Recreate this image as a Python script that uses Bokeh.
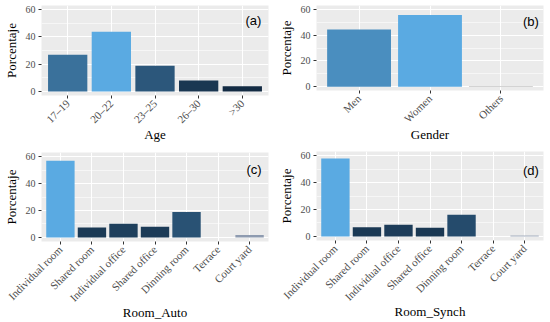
from math import pi
from bokeh.plotting import figure
from bokeh.layouts import column, row
from bokeh.models import FactorRange, Range1d, SingleIntervalTicker, Label
from bokeh.embed import file_html
from bokeh.resources import INLINE

# ---- data ----
age_cats = ["17–19", "20–22", "23–25", "26–30", ">30"]
age_vals = [26.8, 43.7, 18.8, 8.0, 3.8]

gender_cats = ["Men", "Women", "Others"]
gender_vals = [44.4, 55.6, 0.4]

room_cats = ["Individual room", "Shared room", "Individual office", "Shared office",
             "Dinning room", "Terrace", "Court yard"]
room_auto_vals = [56.8, 7.3, 10.2, 8.0, 18.8, 0.0, 1.8]
room_synch_vals = [57.8, 6.9, 8.7, 6.4, 16.1, 0.0, 0.8]

y_label = "Porcentaje"

LOW = "#132B43"
HIGH = "#5AAAE2"


# --- colour gradient interpolated in CIELAB (as ggplot's continuous fill scale) ---
def _to_lin(c):
    c = c / 255.0
    return c / 12.92 if c <= 0.04045 else ((c + 0.055) / 1.055) ** 2.4


def _from_lin(c):
    c = 12.92 * c if c <= 0.0031308 else 1.055 * c ** (1 / 2.4) - 0.055
    return max(0, min(255, int(round(c * 255))))


def hex_to_lab(h):
    r, g, b = (_to_lin(int(h[i:i + 2], 16)) for i in (1, 3, 5))
    x = (0.4124 * r + 0.3576 * g + 0.1805 * b) / 0.95047
    y = (0.2126 * r + 0.7152 * g + 0.0722 * b)
    z = (0.0193 * r + 0.1192 * g + 0.9505 * b) / 1.08883
    f = lambda t: t ** (1 / 3) if t > 0.008856 else 7.787 * t + 16 / 116
    fx, fy, fz = f(x), f(y), f(z)
    return 116 * fy - 16, 500 * (fx - fy), 200 * (fy - fz)


def lab_to_hex(L, a, b):
    fy = (L + 16) / 116
    fx = fy + a / 500
    fz = fy - b / 200
    fi = lambda t: t ** 3 if t ** 3 > 0.008856 else (t - 16 / 116) / 7.787
    x, y, z = fi(fx) * 0.95047, fi(fy), fi(fz) * 1.08883
    r = 3.2406 * x - 1.5372 * y - 0.4986 * z
    g = -0.9689 * x + 1.8758 * y + 0.0415 * z
    bl = 0.0557 * x - 0.2040 * y + 1.0570 * z
    return "#%02x%02x%02x" % (_from_lin(r), _from_lin(g), _from_lin(bl))


def gradient(vals, na=None):
    lo, hi = min(vals), max(vals)
    l0, l1 = hex_to_lab(LOW), hex_to_lab(HIGH)
    out = []
    for i, v in enumerate(vals):
        if na and i in na:
            out.append(na[i])
            continue
        t = (v - lo) / (hi - lo) if hi > lo else 0
        out.append(lab_to_hex(*(a + (b - a) * t for a, b in zip(l0, l1))))
    return out


def panel(cats, vals, colors, xlabel, tag, w, h, bl, br, bt, bb, tdx, tdy, title_standoff):
    pad = 0.1
    p = figure(x_range=FactorRange(factors=cats, range_padding=pad, range_padding_units="absolute"),
               y_range=Range1d(-3, 63), width=w, height=h,
               output_backend="svg", toolbar_location=None,
               min_border_left=bl, min_border_right=br, min_border_top=bt, min_border_bottom=bb)
    p.vbar(x=cats, top=vals, width=0.9, fill_color=colors, line_color=None)

    p.background_fill_color = "#EBEBEB"
    p.border_fill_color = "white"
    p.outline_line_color = None

    p.xgrid.grid_line_color = "white"
    p.xgrid.grid_line_width = 1.1
    p.ygrid.grid_line_color = "white"
    p.ygrid.grid_line_width = 1.1
    p.ygrid.minor_grid_line_color = "white"
    p.ygrid.minor_grid_line_width = 0.55

    p.yaxis.ticker = SingleIntervalTicker(interval=20, num_minor_ticks=2)
    for ax in (p.xaxis, p.yaxis):
        ax.axis_line_color = None
        ax.major_tick_line_color = "#333333"
        ax.major_tick_line_width = 1
        ax.major_tick_out = 3
        ax.major_tick_in = 0
        ax.minor_tick_line_color = None
        ax.major_label_text_font = "Liberation Serif"
        ax.major_label_text_color = "#4D4D4D"
        ax.axis_label_text_font = "Liberation Serif"
        ax.axis_label_text_font_size = "13px"
        ax.axis_label_text_font_style = "normal"
        ax.axis_label_text_color = "black"
    p.yaxis.major_label_text_font_size = "10px"
    p.yaxis.major_label_standoff = 2
    p.yaxis.axis_label_standoff = 4
    p.xaxis.major_label_text_font_size = "11px"
    p.xaxis.major_label_standoff = 3
    p.xaxis.axis_label_standoff = title_standoff
    p.xaxis.major_label_orientation = pi / 4
    p.xaxis.axis_label = xlabel
    p.yaxis.axis_label = y_label

    fw = w - bl - br
    fh = h - bt - bb
    n = len(cats)
    ppu_x = fw / (n + 2 * pad)
    ppu_y = fh / 66.0
    p.add_layout(Label(x=n + pad - tdx / ppu_x, y=63 - tdy / ppu_y, text=tag,
                       text_font="Liberation Sans", text_font_size="13px",
                       text_align="center", text_baseline="middle", text_color="black"))
    return p


pa = panel(age_cats, age_vals, gradient(age_vals), "Age", "(a)",
           275, 150, 36, 7, 5, 55, 15.5, 14.5, -5)
pb = panel(gender_cats, gender_vals, gradient(gender_vals, {2: "#c4c4c4"}), "Gender", "(b)",
           275, 150, 35, 7, 5, 60, 13, 15.5, -5)
pc = panel(room_cats, room_auto_vals, gradient(room_auto_vals, {6: "#8e9bb0"}), "Room_Auto", "(c)",
           275, 172, 36, 7, 2, 81, 14.7, 17, -6)
pd = panel(room_cats, room_synch_vals, gradient(room_synch_vals, {6: "#a3adbd"}), "Room_Synch", "(d)",
           275, 172, 35, 7, 1, 82, 13, 18.5, -6)

layout = column(row(column(pa), column(pb)), row(column(pc), column(pd)))

open("out.html", "w").write(file_html(layout, INLINE))
